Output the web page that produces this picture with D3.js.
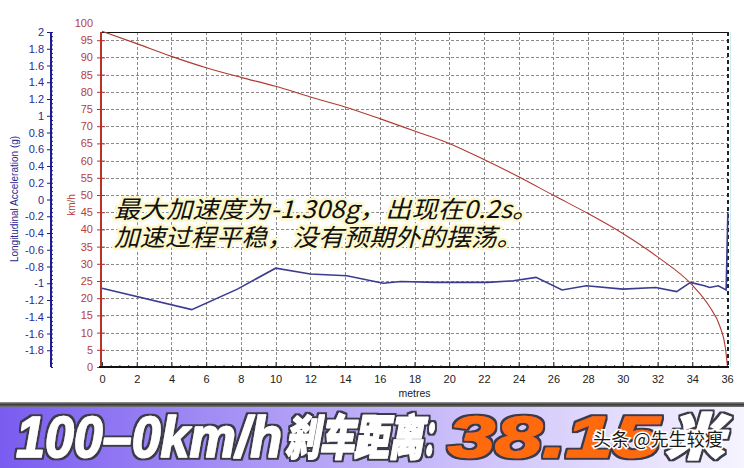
<!DOCTYPE html>
<html>
<head>
<meta charset="utf-8">
<script src="https://cdn.jsdelivr.net/npm/d3@7"></script>
<style>
  html, body { margin: 0; padding: 0; background: #ffffff; }
  svg { display: block; }
</style>
</head>
<body>
<svg id="chart" width="744" height="468"></svg>
<script>
// ---------------- data ----------------
const speedDist = [0, 2, 4, 6, 8, 10, 12, 14, 16, 18, 20, 22, 24, 26, 28, 30, 32, 34, 35, 35.6, 35.9, 36.03];
const speedKmh  = [97.6, 94.0, 90.3, 87.0, 84.2, 81.6, 78.5, 75.6, 72.2, 68.6, 65.0, 60.3, 55.3, 49.9, 44.6, 38.8, 32.0, 23.8, 17.5, 11.7, 5.8, 0];

const accDist = [0, 5.17, 7.8, 10.0, 12.0, 14.1, 16.2, 17.2, 19.2, 22.2, 23.7, 25.0, 26.5, 27.9, 30.0, 31.9, 33.1, 33.9, 34.7, 35.0, 35.5, 35.95, 36.05];
const accG    = [-1.06, -1.315, -1.07, -0.82, -0.89, -0.91, -1.00, -0.98, -0.99, -0.99, -0.97, -0.93, -1.08, -1.03, -1.07, -1.05, -1.10, -0.99, -1.03, -1.05, -1.03, -1.08, -0.15];

const accTicks   = [2, 1.8, 1.6, 1.4, 1.2, 1, 0.8, 0.6, 0.4, 0.2, 0, -0.2, -0.4, -0.6, -0.8, -1, -1.2, -1.4, -1.6, -1.8];
const speedTicks = [0, 5, 10, 15, 20, 25, 30, 35, 40, 45, 50, 55, 60, 65, 70, 75, 80, 85, 90, 95, 100];
const distTicks  = [0, 2, 4, 6, 8, 10, 12, 14, 16, 18, 20, 22, 24, 26, 28, 30, 32, 34, 36];

const noteLines = ["最大加速度为-1.308g，出现在0.2s。", "加速过程平稳，没有预期外的摆荡。"];
const bannerParts = ["100–0km/h", "刹车距离", "：", "38.15", "米"];
const watermark = "头条 @先生较瘦";
const accTitle = "Longitudinal Acceleration (g)";
const speedTitle = "km/h";
const distTitle = "metres";

// ---------------- layout ----------------
const svg = d3.select("#chart");
const L = 101, R = 728, T = 32, B = 367;
const x  = d3.scaleLinear([0, 36], [102, 727]);
const yL = d3.scaleLinear([-2, 2], [B, T]);
const yR = d3.scaleLinear([0, 100], [B, 23]);

const blue = "#1c1c8c", red = "#b8322c";
const tickFont = "'Liberation Sans', Arial, sans-serif";

// grid
const grid = svg.append("g").attr("stroke", "#8a8a8a").attr("stroke-width", 1).attr("stroke-dasharray", "3,2");
grid.selectAll("line.v").data(distTicks.filter(d => d > 0 && d < 36)).join("line")
  .attr("x1", d => Math.round(x(d)) + 0.5).attr("x2", d => Math.round(x(d)) + 0.5)
  .attr("y1", T).attr("y2", B);
grid.selectAll("line.h").data(speedTicks.filter(d => d > 0 && d < 100)).join("line")
  .attr("x1", L).attr("x2", R)
  .attr("y1", d => Math.round(yR(d)) + 0.5).attr("y2", d => Math.round(yR(d)) + 0.5);

// top border & right border
svg.append("line").attr("x1", L).attr("x2", R).attr("y1", T + 0.5).attr("y2", T + 0.5).attr("stroke", "#111").attr("stroke-width", 1);
svg.append("line").attr("x1", R + 2.5).attr("x2", R + 2.5).attr("y1", T).attr("y2", B).attr("stroke", "#cdeeee").attr("stroke-width", 1);
svg.append("line").attr("x1", R).attr("x2", R).attr("y1", T).attr("y2", B)
  .attr("stroke", "#222").attr("stroke-width", 2).attr("stroke-dasharray", "4,3");

// ---------------- lines ----------------
const speedPts = speedDist.map((d, i) => [d, speedKmh[i]]);
const accPts = accDist.map((d, i) => [d, accG[i]]);

svg.append("path").datum(accPts)
  .attr("fill", "none").attr("stroke", "#3b3b92").attr("stroke-width", 1.6)
  .attr("d", d3.line().x(d => x(d[0])).y(d => yL(d[1])));

svg.append("path").datum(speedPts)
  .attr("fill", "none").attr("stroke", "#b03a32").attr("stroke-width", 1.1)
  .attr("d", d3.line().curve(d3.curveMonotoneX).x(d => x(d[0])).y(d => yR(d[1])));

// ---------------- axes ----------------
// left (acceleration)
const gL = svg.append("g").attr("transform", "translate(51,0)");
gL.call(d3.axisLeft(yL).tickValues(accTicks).tickSize(4).tickPadding(3).tickFormat(d => String(d)));
gL.select(".domain").remove();
gL.selectAll(".tick line").attr("stroke", blue);
gL.selectAll(".tick text").attr("fill", "#2a2a8e").style("font-family", tickFont).style("font-size", "11px");
const gLm = svg.append("g").attr("transform", "translate(51,0)");
gLm.call(d3.axisLeft(yL).tickValues(d3.range(-40, 41).map(i => i / 20)).tickSize(-2).tickFormat(""));
gLm.select(".domain").remove();
gLm.selectAll(".tick line").attr("stroke", blue);
svg.append("line").attr("x1", 51).attr("x2", 51).attr("y1", T).attr("y2", B).attr("stroke", blue).attr("stroke-width", 2);

svg.append("text").attr("transform", "translate(18,199) rotate(-90)")
  .attr("text-anchor", "middle").attr("fill", "#2a2a8e")
  .style("font-family", tickFont).style("font-size", "10px").text(accTitle);

// red (speed)
const gR = svg.append("g").attr("transform", `translate(${L},0)`);
gR.call(d3.axisLeft(yR).tickValues(speedTicks).tickSize(4).tickPadding(4));
gR.select(".domain").remove();
gR.selectAll(".tick line").attr("stroke", red).attr("x2", 4).attr("x1", -4)
  .attr("display", d => d > 97 ? "none" : null);
gR.selectAll(".tick text").attr("fill", "#b8403a").style("font-family", tickFont).style("font-size", "11px");
svg.append("line").attr("x1", L).attr("x2", L).attr("y1", T).attr("y2", B).attr("stroke", red).attr("stroke-width", 2);

svg.append("text").attr("transform", "translate(75,205) rotate(-90)")
  .attr("text-anchor", "middle").attr("fill", "#b8403a")
  .style("font-family", tickFont).style("font-size", "10px").text(speedTitle);

// bottom (distance)
const gB = svg.append("g").attr("transform", `translate(0,${B})`);
gB.call(d3.axisBottom(x).tickValues(distTicks).tickSize(-5).tickPadding(8));
gB.select(".domain").remove();
gB.selectAll(".tick line").attr("stroke", "#333");
gB.selectAll(".tick text").attr("fill", "#222").style("font-family", tickFont).style("font-size", "11px");
const gBm = svg.append("g").attr("transform", `translate(0,${B})`);
gBm.call(d3.axisBottom(x).tickValues(d3.range(0, 73).map(i => i / 2)).tickSize(-2).tickFormat(""));
gBm.select(".domain").remove();
gBm.selectAll(".tick line").attr("stroke", "#555");
svg.append("line").attr("x1", L - 2).attr("x2", R + 1).attr("y1", B).attr("y2", B).attr("stroke", "#111").attr("stroke-width", 2);

svg.append("text").attr("x", x(18)).attr("y", 397).attr("text-anchor", "middle")
  .attr("fill", "#222").style("font-family", tickFont).style("font-size", "10.5px").text(distTitle);

// ---------------- annotation ----------------
const note = svg.append("g")
  .style("font-family", "'Noto Sans CJK SC', sans-serif").style("font-size", "24px").style("font-style", "italic");
note.selectAll("text").data(noteLines).join("text")
  .attr("x", 114).attr("y", (d, i) => 218 + i * 28)
  .attr("fill", "#111")
  .attr("stroke", "#fdf8cc").attr("stroke-width", 5).attr("stroke-linejoin", "round")
  .attr("paint-order", "stroke")
  .attr("textLength", (d, i) => i === 0 ? 424 : 408).attr("lengthAdjust", "spacingAndGlyphs")
  .text(d => d);

// ---------------- banner ----------------
const defs = svg.append("defs");
const lg = defs.append("linearGradient").attr("id", "bannerGrad").attr("x1", "0").attr("x2", "1").attr("y1", "0").attr("y2", "0");
lg.append("stop").attr("offset", "0").attr("stop-color", "#7a5cf0");
lg.append("stop").attr("offset", "0.45").attr("stop-color", "#b9a8f7");
lg.append("stop").attr("offset", "1").attr("stop-color", "#f6f4ff");
const lg2 = defs.append("linearGradient").attr("id", "edgeGrad").attr("x1", "0").attr("x2", "0").attr("y1", "0").attr("y2", "1");
lg2.append("stop").attr("offset", "0").attr("stop-color", "#9a9a9a");
lg2.append("stop").attr("offset", "0.5").attr("stop-color", "#3c3c3c");
lg2.append("stop").attr("offset", "1").attr("stop-color", "#777");

// dark outline filter for banner text
const flt = defs.append("filter").attr("id", "outline").attr("x", "-5%").attr("y", "-20%").attr("width", "110%").attr("height", "140%");
flt.append("feMorphology").attr("in", "SourceAlpha").attr("operator", "dilate").attr("radius", 2).attr("result", "dil");
flt.append("feFlood").attr("flood-color", "#3a3a4a").attr("result", "col");
flt.append("feComposite").attr("in", "col").attr("in2", "dil").attr("operator", "in").attr("result", "edge");
const fm = flt.append("feMerge");
fm.append("feMergeNode").attr("in", "edge");
fm.append("feMergeNode").attr("in", "SourceGraphic");

svg.append("rect").attr("x", 0).attr("y", 402).attr("width", 744).attr("height", 5).attr("fill", "url(#edgeGrad)");
svg.append("rect").attr("x", 0).attr("y", 407).attr("width", 744).attr("height", 61).attr("fill", "url(#bannerGrad)");

const segs = [
  { t: bannerParts[0], x0: 16,  x1: 282, c: "#ffffff", f: "'Liberation Sans', Arial, sans-serif", s: 58, y: 457 },
  { t: bannerParts[1], x0: 285, x1: 423, c: "#ffffff", f: "'Noto Sans CJK SC', sans-serif", s: 48, y: 455 },
  { t: bannerParts[2], x0: 423, x1: 446, c: "#ffffff", f: "'Noto Sans CJK SC', sans-serif", s: 48, y: 455 },
  { t: bannerParts[3], x0: 448, x1: 660, c: "#ff6a10", f: "'Liberation Sans', Arial, sans-serif", s: 58, y: 457 },
  { t: bannerParts[4], x0: 665, x1: 724, c: "#ffffff", f: "'Noto Sans CJK SC', sans-serif", s: 50, y: 455 }
];
svg.append("g").attr("filter", "url(#outline)")
  .selectAll("text").data(segs).join("text")
  .attr("x", d => d.x0).attr("y", d => d.y)
  .attr("textLength", d => d.x1 - d.x0).attr("lengthAdjust", "spacingAndGlyphs")
  .attr("fill", d => d.c)
  .attr("stroke", d => d.c).attr("stroke-width", 1.6).attr("stroke-linejoin", "round")
  .style("font-family", d => d.f).style("font-size", d => d.s + "px")
  .style("font-weight", 900).style("font-style", "italic")
  .text(d => d.t);

svg.append("text").attr("x", 593).attr("y", 446)
  .attr("fill", "#1a1a1a").attr("stroke", "#ffffff").attr("stroke-width", 3).attr("paint-order", "stroke")
  .attr("textLength", 130).attr("lengthAdjust", "spacingAndGlyphs")
  .style("font-family", "'Noto Sans CJK SC', sans-serif").style("font-size", "18px")
  .text(watermark);
</script>
</body>
</html>
